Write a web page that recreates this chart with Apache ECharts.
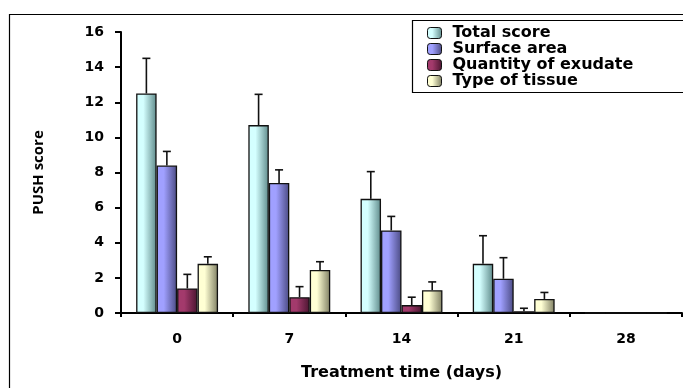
<!DOCTYPE html>
<html><head><meta charset="utf-8">
<script src="https://cdn.jsdelivr.net/npm/echarts@6/dist/echarts.min.js"></script>
<style>html,body{margin:0;padding:0;background:#fff}#c{width:683px;height:388px}</style>
</head><body><div id="c"></div>
<script>
const categories = ['0', '7', '14', '21', '28'];
const seriesNames = ['Total score', 'Surface area', 'Quantity of exudate', 'Type of tissue'];
const totalScore = [12.5, 10.7, 6.5, 2.8, 0];
const surfaceArea = [8.4, 7.4, 4.7, 1.95, 0];
const exudate = [1.4, 0.9, 0.45, 0.1, 0];
const tissue = [2.8, 2.45, 1.3, 0.8, 0];
const totalErr = [2.0, 1.75, 1.55, 1.6, null];
const surfaceErr = [0.8, 0.75, 0.8, 1.2, null];
const exudateErr = [0.8, 0.6, 0.45, 0.17, null];
const tissueErr = [0.4, 0.47, 0.47, 0.37, null];
const yTicks = [0, 2, 4, 6, 8, 10, 12, 14, 16];

const values = [totalScore, surfaceArea, exudate, tissue];
const errs = [totalErr, surfaceErr, exudateErr, tissueErr];
const grads = [['#d4ffff', '#5e8a8a'], ['#a0a0ff', '#4a4a82'], ['#a33a6c', '#4a1530'], ['#ffffd4', '#7e7e62']];
const FONT = 'DejaVu Sans';
const GAP = 0.27;

function grad(c) {
  return new echarts.graphic.LinearGradient(0, 0, 1, 0, [
    {offset: 0, color: c[0]}, {offset: 0.35, color: c[0]}, {offset: 1, color: c[1]}
  ]);
}

const series = [];
values.forEach((v, i) => {
  series.push({
    name: seriesNames[i], type: 'bar', data: v,
    barCategoryGap: (GAP * 100) + '%', barGap: '0%',
    itemStyle: {color: grad(grads[i]), borderColor: '#111', borderWidth: 1.3},
    emphasis: {disabled: true}
  });
});
errs.forEach((e, i) => {
  series.push({
    type: 'custom', silent: true, z: 1,
    data: categories.map((c, k) => [k, values[i][k], e[k]]),
    renderItem: function (params, api) {
      const err = api.value(2);
      if (err == null || isNaN(err)) return;
      const k = api.value(0), val = api.value(1);
      const band = api.size([1, 0])[0];
      const groupW = band * (1 - GAP);
      const bw = groupW / 4;
      const base = api.coord([k, val]);
      const top = api.coord([k, val + err]);
      const x = base[0] - groupW / 2 + (i + 0.5) * bw;
      const capW = 8;
      return {
        type: 'group', children: [
          {type: 'line', shape: {x1: x, y1: base[1], x2: x, y2: top[1]}, style: {stroke: '#111', lineWidth: 1.6}},
          {type: 'line', shape: {x1: x - capW / 2, y1: top[1], x2: x + capW / 2, y2: top[1]}, style: {stroke: '#111', lineWidth: 1.6}}
        ]
      };
    }
  });
});

const chart = echarts.init(document.getElementById('c'), null, {renderer: 'canvas'});
chart.setOption({
  animation: false,
  backgroundColor: '#fff',
  grid: {left: 121, right: 1, top: 32, bottom: 75, containLabel: false},
  legend: {
    data: seriesNames, orient: 'vertical', left: 427, top: 25, z: 20,
    itemWidth: 14, itemHeight: 11, itemGap: 0, padding: 0,
    textStyle: {fontFamily: FONT, fontWeight: 'bold', fontSize: 16, lineHeight: 16, color: '#000', padding: [0, 0, 0, 6]},
    selectedMode: false,
    itemStyle: {borderColor: '#111', borderWidth: 1}
  },
  graphic: [
    {type: 'rect', shape: {x: 9.5, y: 14.5, width: 680, height: 380}, style: {fill: 'none', stroke: '#000', lineWidth: 1.2}, z: 0},
    {type: 'rect', shape: {x: 412.5, y: 20.5, width: 280, height: 72}, style: {fill: '#fff', stroke: '#000', lineWidth: 1.2}, z: 5}
  ],
  xAxis: {
    type: 'category', data: categories,
    name: 'Treatment time (days)', nameLocation: 'middle', nameGap: 52,
    nameTextStyle: {fontFamily: FONT, fontWeight: 'bold', fontSize: 16, color: '#000'},
    axisLine: {lineStyle: {color: '#000', width: 2}},
    axisTick: {show: true, length: 4, lineStyle: {color: '#000', width: 2}, alignWithLabel: false},
    axisLabel: {fontFamily: FONT, fontWeight: 'bold', fontSize: 14, color: '#000', margin: 19}
  },
  yAxis: {
    type: 'value', min: 0, max: 16, interval: 2,
    name: 'PUSH score', nameLocation: 'middle', nameGap: 75,
    nameTextStyle: {fontFamily: 'Liberation Sans Narrow, Open Sans', fontWeight: 'bold', fontSize: 15, color: '#000'},
    axisLine: {show: true, lineStyle: {color: '#000', width: 2}},
    axisTick: {show: true, length: 6, lineStyle: {color: '#000', width: 2}},
    axisLabel: {fontFamily: FONT, fontWeight: 'bold', fontSize: 14, color: '#000', margin: 17,
      formatter: v => yTicks.includes(v) ? String(v) : ''},
    splitLine: {show: false}
  },
  series: series
});
</script></body></html>
